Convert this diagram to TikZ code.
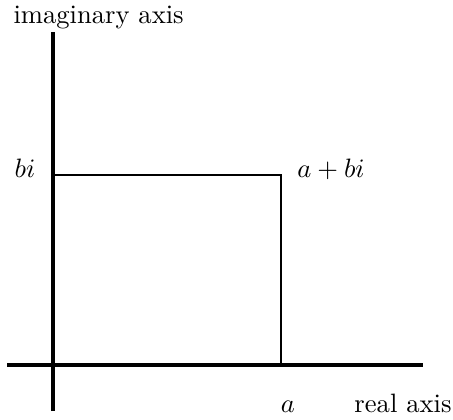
\documentclass[tikz,border=0pt]{standalone}
\usepackage{amsmath,amssymb}
\usepackage{tikz}
\usetikzlibrary{positioning}

\begin{document}
\begin{tikzpicture}[
  x=0.376pt,y=-0.376pt,
  axis/.style={line width=1.5pt},
  part/.style={line width=0.6pt},
  lbl/.style={inner sep=0pt}
]
\useasboundingbox (0,0) rectangle (453,419);
\coordinate (xmin) at (7,365);
\coordinate (xmax) at (423,365);
\coordinate (ymin) at (53,411);
\coordinate (ymax) at (53,32);
\coordinate (z) at (281,175);

\draw[axis] (xmin) -- (xmax);
\draw[axis] (ymin) -- (ymax);
\draw[part] (ymin |- z) -- (z) -- (z |- xmin);

\node[lbl, anchor=base west] (imag) at (13,23) {imaginary axis};
\node[lbl, anchor=base east] (real) at (452,412) {real axis};
\node[lbl, anchor=base] (re) at (288,412) {$a$};
\node[lbl, anchor=base] (im) at (25,177) {$bi$};
\node[lbl, anchor=base] (zlbl) at (331,177) {$a+bi$};
\end{tikzpicture}
\end{document}
